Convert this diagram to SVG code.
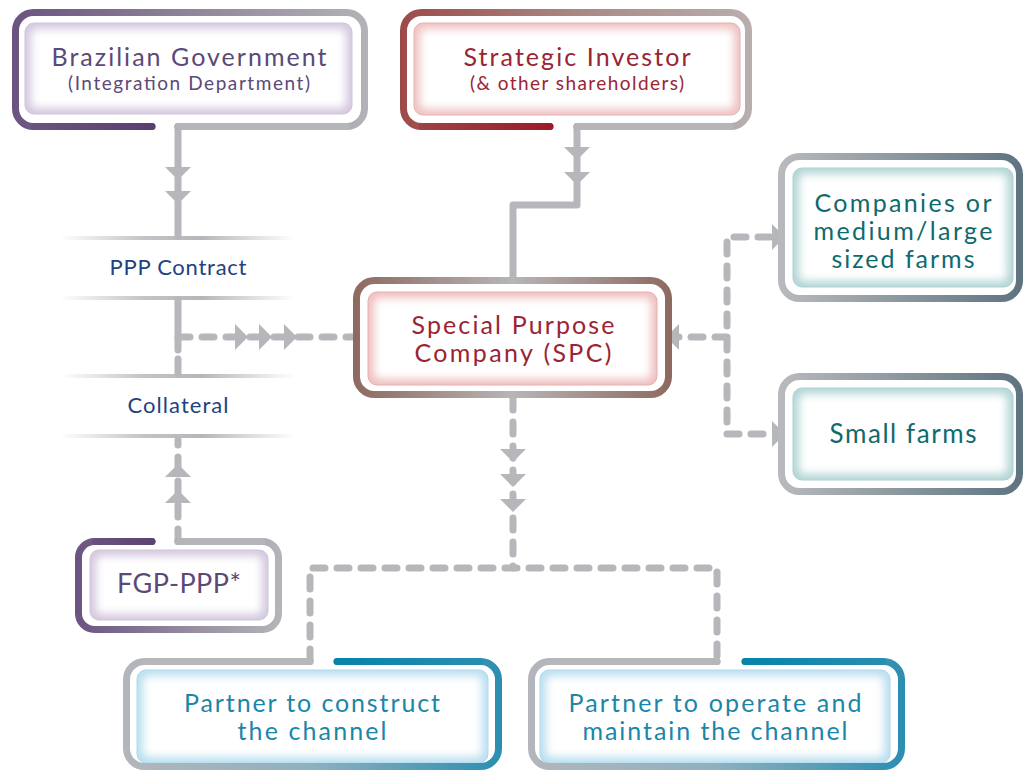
<svg xmlns="http://www.w3.org/2000/svg" xmlns:xlink="http://www.w3.org/1999/xlink" width="1024" height="773" viewBox="0 0 1024 773">
<style>
.frame{fill:none;stroke-width:7;stroke-linecap:round;stroke-linejoin:round}
.conn{fill:none;stroke:#b6b7bb;stroke-width:7;stroke-linecap:round;stroke-linejoin:round}
.dash{stroke-dasharray:12 12}
.arr{fill:#b6b7bb}
.glow{fill:#ffffff;filter:url(#soft)}
.t{font-family:Lato,'Open Sans',sans-serif;text-anchor:middle}
.purple{fill:#5b4978}
.red{fill:#9b2434}
.teal{fill:#0f6a6d}
.blue{fill:#1a86a9}
.navy{fill:#1e4381}
</style>
<defs>
<filter id="soft" x="-20%" y="-30%" width="140%" height="160%"><feGaussianBlur stdDeviation="4"/></filter>
<path id="ad" d="M-13,-13 L13,-13 L0,0 Z"/>
<linearGradient id="gSep" gradientUnits="userSpaceOnUse" x1="60" y1="0" x2="295" y2="0">
<stop offset="0" stop-color="#b5b6ba" stop-opacity="0"/>
<stop offset="0.35" stop-color="#b5b6ba" stop-opacity="0.8"/>
<stop offset="0.6" stop-color="#b5b6ba" stop-opacity="1"/>
<stop offset="1" stop-color="#b5b6ba" stop-opacity="0"/>
</linearGradient>
<linearGradient id="gBr" gradientUnits="userSpaceOnUse" x1="12" y1="0" x2="368" y2="0">
<stop offset="0" stop-color="#6a5380"/><stop offset="0.5" stop-color="#8f8599"/><stop offset="1" stop-color="#b3b2b8"/>
</linearGradient>
<linearGradient id="gBrEnd" gradientUnits="userSpaceOnUse" x1="30" y1="0" x2="153" y2="0">
<stop offset="0" stop-color="#6a5380"/><stop offset="1" stop-color="#5a3f70"/>
</linearGradient>
<linearGradient id="gInv" gradientUnits="userSpaceOnUse" x1="400" y1="0" x2="752" y2="0">
<stop offset="0" stop-color="#9d4b49"/><stop offset="0.5" stop-color="#a98883"/><stop offset="1" stop-color="#b7afae"/>
</linearGradient>
<linearGradient id="gInvEnd" gradientUnits="userSpaceOnUse" x1="420" y1="0" x2="550" y2="0">
<stop offset="0" stop-color="#9e4243"/><stop offset="1" stop-color="#9b1c28"/>
</linearGradient>
<linearGradient id="gSpc" gradientUnits="userSpaceOnUse" x1="353" y1="0" x2="672" y2="0">
<stop offset="0" stop-color="#8d695f"/><stop offset="0.5" stop-color="#b7b5b6"/><stop offset="1" stop-color="#8d695f"/>
</linearGradient>
<linearGradient id="gFarm" gradientUnits="userSpaceOnUse" x1="778" y1="0" x2="1023" y2="0">
<stop offset="0" stop-color="#b9babd"/><stop offset="1" stop-color="#5d7480"/>
</linearGradient>
<linearGradient id="gFgp" gradientUnits="userSpaceOnUse" x1="75" y1="0" x2="282" y2="0">
<stop offset="0" stop-color="#6a5380"/><stop offset="0.55" stop-color="#968ca0"/><stop offset="1" stop-color="#b5b5b9"/>
</linearGradient>
<linearGradient id="gFgpEnd" gradientUnits="userSpaceOnUse" x1="90" y1="0" x2="152" y2="0">
<stop offset="0" stop-color="#6a5380"/><stop offset="1" stop-color="#5c4372"/>
</linearGradient>
<linearGradient id="gPc" gradientUnits="userSpaceOnUse" x1="123" y1="0" x2="502" y2="0">
<stop offset="0" stop-color="#b3b6bb"/><stop offset="0.5" stop-color="#8fb0bf"/><stop offset="1" stop-color="#2b8eb1"/>
</linearGradient>
<linearGradient id="gPcEnd" gradientUnits="userSpaceOnUse" x1="337" y1="0" x2="500" y2="0">
<stop offset="0" stop-color="#0783a9"/><stop offset="1" stop-color="#2d8fb1"/>
</linearGradient>
<linearGradient id="gPo" gradientUnits="userSpaceOnUse" x1="528" y1="0" x2="905" y2="0">
<stop offset="0" stop-color="#b3b6bb"/><stop offset="0.5" stop-color="#8fb0bf"/><stop offset="1" stop-color="#2b8eb1"/>
</linearGradient>
<linearGradient id="gPoEnd" gradientUnits="userSpaceOnUse" x1="745" y1="0" x2="903" y2="0">
<stop offset="0" stop-color="#0783a9"/><stop offset="1" stop-color="#2d8fb1"/>
</linearGradient>
</defs>

<g id="labels">
<rect x="60" y="236" width="235" height="4" fill="url(#gSep)"/>
<rect x="60" y="296" width="235" height="4" fill="url(#gSep)"/>
<rect x="60" y="374" width="235" height="4" fill="url(#gSep)"/>
<rect x="60" y="434" width="235" height="4" fill="url(#gSep)"/>
<text class="t navy" x="178" y="275" font-size="22" textLength="137">PPP Contract</text>
<text class="t navy" x="178" y="413" font-size="22" textLength="101">Collateral</text>
</g>

<g id="connectors">
<path class="conn" d="M178,126.5 V236"/>
<path class="conn" d="M178,300 V350"/>
<path class="conn" d="M178,359 V374"/>
<use href="#ad" class="arr" transform="translate(178,180)"/>
<use href="#ad" class="arr" transform="translate(178,204)"/>
<path class="conn dash" d="M178,337 H352"/>
<use href="#ad" class="arr" transform="translate(248,337) rotate(-90)"/>
<use href="#ad" class="arr" transform="translate(272,337) rotate(-90)"/>
<use href="#ad" class="arr" transform="translate(297,337) rotate(-90)"/>
<path class="conn dash" d="M178,541 V440"/>
<use href="#ad" class="arr" transform="translate(178,464) rotate(180)"/>
<use href="#ad" class="arr" transform="translate(178,490) rotate(180)"/>
<path class="conn" d="M577,126.5 V205 H513 V280"/>
<use href="#ad" class="arr" transform="translate(577,160)"/>
<use href="#ad" class="arr" transform="translate(577,185)"/>
<path class="conn dash" d="M727,337 H672"/>
<path class="conn dash" d="M770,237 H727 V434 H770"/>
<use href="#ad" class="arr" transform="translate(666,337) rotate(90)"/>
<use href="#ad" class="arr" transform="translate(785,237) rotate(-90)"/>
<use href="#ad" class="arr" transform="translate(785,434) rotate(-90)"/>
<path class="conn dash" d="M513,398 V568"/>
<use href="#ad" class="arr" transform="translate(513,462)"/>
<use href="#ad" class="arr" transform="translate(513,487)"/>
<use href="#ad" class="arr" transform="translate(513,512)"/>
<path class="conn dash" d="M310,661 V568 H717 V661"/>
</g>

<g id="n-brazil">
<rect x="25" y="23" width="327" height="91" rx="9" fill="#d4c8de" stroke="#cdbfd8" stroke-width="1"/>
<rect class="glow" x="31" y="29" width="315" height="79" rx="5"/>
<path class="frame" stroke="url(#gBr)" d="M178,126.5 H346.5 A18,18 0 0 0 364.5,108.5 V30.5 A18,18 0 0 0 346.5,12.5 H33.5 A18,18 0 0 0 15.5,30.5 V108.5 A18,18 0 0 0 33.5,126.5 H152"/>
<path class="frame" stroke="#b5b5ba" d="M178,126.5 H346"/>
<path class="frame" stroke="url(#gBrEnd)" d="M34,126.5 H152"/>
<text class="t purple"><tspan x="189" y="66" font-size="25" textLength="275">Brazilian Government</tspan><tspan x="189" y="90" font-size="19" textLength="242">(Integration Department)</tspan></text>
</g>

<g id="n-investor">
<rect x="414" y="23" width="326" height="92" rx="9" fill="#efc2c2" stroke="#e6aaaa" stroke-width="1"/>
<rect class="glow" x="420" y="29" width="314" height="80" rx="5"/>
<path class="frame" stroke="url(#gInv)" d="M577,126.5 H730.5 A18,18 0 0 0 748.5,108.5 V30.5 A18,18 0 0 0 730.5,12.5 H421.5 A18,18 0 0 0 403.5,30.5 V108.5 A18,18 0 0 0 421.5,126.5 H550"/>
<path class="frame" stroke="#b6b6b9" d="M577,126.5 H730"/>
<path class="frame" stroke="url(#gInvEnd)" d="M422,126.5 H550"/>
<text class="t red"><tspan x="577" y="66" font-size="25" textLength="227">Strategic Investor</tspan><tspan x="577" y="90" font-size="19" textLength="214">(&amp; other shareholders)</tspan></text>
</g>

<g id="n-spc">
<rect x="368" y="292" width="289" height="93" rx="9" fill="#efbfbf" stroke="#e6a8a8" stroke-width="1"/>
<rect class="glow" x="374" y="298" width="277" height="81" rx="5"/>
<rect class="frame" stroke="url(#gSpc)" x="356.5" y="280.5" width="312" height="114" rx="18"/>
<text class="t red" font-size="25"><tspan x="513" y="334" textLength="203">Special Purpose</tspan><tspan x="513" y="362" textLength="197">Company (SPC)</tspan></text>
</g>

<g id="n-companies">
<rect x="793" y="168" width="220" height="119" rx="9" fill="#b3d5d6" stroke="#a7cecf" stroke-width="1"/>
<rect class="glow" x="799" y="174" width="208" height="107" rx="5"/>
<rect class="frame" stroke="url(#gFarm)" x="781.5" y="156.5" width="238" height="142" rx="18"/>
<text class="t teal" font-size="25"><tspan x="903" y="212" textLength="177">Companies or</tspan><tspan x="903" y="240" textLength="179">medium/large</tspan><tspan x="903" y="268" textLength="143">sized farms</tspan></text>
</g>

<g id="n-small">
<rect x="793" y="388" width="220" height="92" rx="9" fill="#b3d5d6" stroke="#a7cecf" stroke-width="1"/>
<rect class="glow" x="799" y="394" width="208" height="80" rx="5"/>
<rect class="frame" stroke="url(#gFarm)" x="781.5" y="376.5" width="238" height="115" rx="18"/>
<text class="t teal" x="903" y="443" font-size="26" textLength="147">Small farms</text>
</g>

<g id="n-fgp">
<rect x="90" y="550" width="178" height="70" rx="9" fill="#d4c8de" stroke="#cdbfd8" stroke-width="1"/>
<rect class="glow" x="96" y="556" width="166" height="58" rx="5"/>
<path class="frame" stroke="url(#gFgp)" d="M178,541.5 H262.5 A16,16 0 0 1 278.5,557.5 V613.5 A16,16 0 0 1 262.5,629.5 H94.5 A16,16 0 0 1 78.5,613.5 V557.5 A16,16 0 0 1 94.5,541.5 H152"/>
<path class="frame" stroke="#b5b5b9" d="M178,541.5 H262"/>
<path class="frame" stroke="url(#gFgpEnd)" d="M95,541.5 H152"/>
<text class="t purple" x="179" y="593" font-size="27" textLength="124">FGP-PPP*</text>
</g>

<g id="n-construct">
<rect x="137" y="670" width="351" height="93" rx="9" fill="#badff0" stroke="#a9d6ea" stroke-width="1"/>
<rect class="glow" x="143" y="676" width="339" height="81" rx="5"/>
<path class="frame" stroke="url(#gPc)" d="M310,661.5 H144.5 A18,18 0 0 0 126.5,679.5 V748.5 A18,18 0 0 0 144.5,766.5 H480.5 A18,18 0 0 0 498.5,748.5 V679.5 A18,18 0 0 0 480.5,661.5 H337"/>
<path class="frame" stroke="#b6b7bb" d="M310,661.5 H145"/>
<path class="frame" stroke="url(#gPcEnd)" d="M480,661.5 H337"/>
<text class="t blue" font-size="25"><tspan x="312" y="712" textLength="256">Partner to construct</tspan><tspan x="312" y="740" textLength="149">the channel</tspan></text>
</g>

<g id="n-operate">
<rect x="540" y="670" width="350" height="93" rx="9" fill="#badff0" stroke="#a9d6ea" stroke-width="1"/>
<rect class="glow" x="546" y="676" width="338" height="81" rx="5"/>
<path class="frame" stroke="url(#gPo)" d="M717,661.5 H549.5 A18,18 0 0 0 531.5,679.5 V748.5 A18,18 0 0 0 549.5,766.5 H883.5 A18,18 0 0 0 901.5,748.5 V679.5 A18,18 0 0 0 883.5,661.5 H745"/>
<path class="frame" stroke="#b6b7bb" d="M717,661.5 H550"/>
<path class="frame" stroke="url(#gPoEnd)" d="M883,661.5 H745"/>
<text class="t blue" font-size="25"><tspan x="715" y="712" textLength="293">Partner to operate and</tspan><tspan x="715" y="740" textLength="265">maintain the channel</tspan></text>
</g>
</svg>
